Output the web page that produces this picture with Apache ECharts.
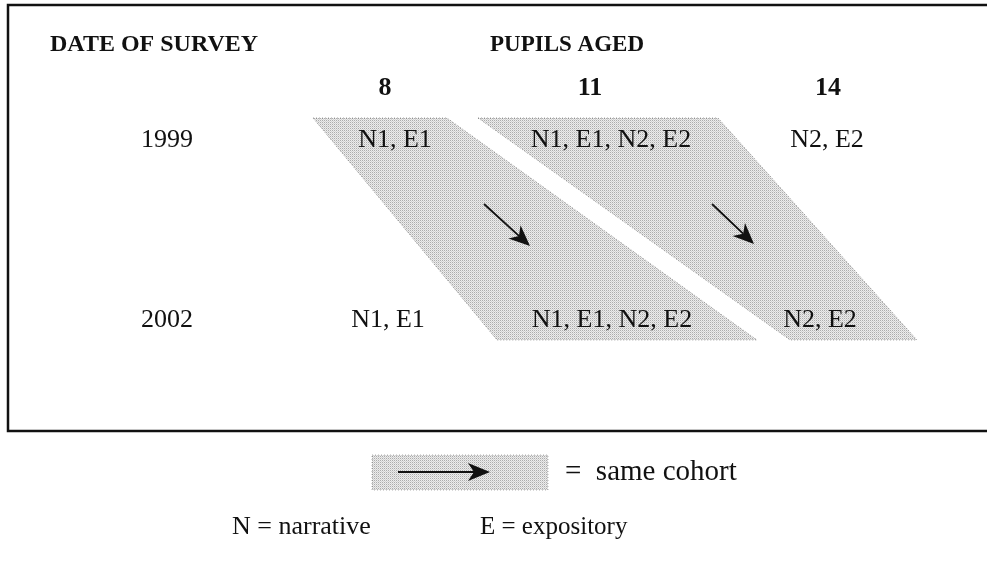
<!DOCTYPE html>
<html>
<head>
<meta charset="utf-8">
<script src="https://cdn.jsdelivr.net/npm/echarts@6/dist/echarts.min.js"></script>
<style>
  html, body { margin: 0; padding: 0; background: #fff; }
  #main { width: 987px; height: 562px; }
</style>
</head>
<body>
<div id="main"></div>
<script>
// survey design: which tasks were given to which age group in which year
var surveyYears = ['1999', '2002'];
var pupilAges = ['8', '11', '14'];
var tasks1999 = ['N1, E1', 'N1, E1, N2, E2', 'N2, E2'];
var tasks2002 = ['N1, E1', 'N1, E1, N2, E2', 'N2, E2'];
// cohorts followed: [age index in 1999, age index in 2002]
var cohorts = [[0, 1], [1, 2]];
var keyTexts = ['=  same cohort', 'N = narrative', 'E = expository'];

// layout (pixel space of the 987x562 page)
var headX = [385, 590, 828];
var cellX1999 = [395, 611, 827];
var cellX2002 = [388, 612, 820];
var rowY = [140, 320];
var yearX = 167;
var bandTop = 118, bandBottom = 340;
var bandEdges = [[313, 447, 757, 497], [478, 718, 917, 790]]; // tl, tr, br, bl x
var arrowPos = [[484, 204, 530, 246], [712, 204, 754, 244]];

var serif = '"Liberation Serif", "DejaVu Serif", serif';

var pat = document.createElement('canvas');
pat.width = 2; pat.height = 2;
var pctx = pat.getContext('2d');
pctx.fillStyle = '#ececec'; pctx.fillRect(0, 0, 2, 2);
pctx.fillStyle = '#acacac'; pctx.fillRect(0, 0, 1, 1);
pctx.fillStyle = '#d2d2d2'; pctx.fillRect(1, 1, 1, 1);
var dotFill = { image: pat, repeat: 'repeat' };

var chart = echarts.init(document.getElementById('main'));

function txt(api, s, x, y, size, bold, align) {
    var p = api.coord([x, y]);
    return {
        type: 'text',
        style: {
            text: s, x: p[0], y: p[1],
            font: (bold ? 'bold ' : '') + size + 'px ' + serif,
            fill: '#111', align: align || 'center', verticalAlign: 'middle'
        }
    };
}

function arrow(api, x1, y1, x2, y2, head, width) {
    var a = api.coord([x1, y1]), b = api.coord([x2, y2]);
    var ang = Math.atan2(b[1] - a[1], b[0] - a[0]);
    var hl = head || 20, hw = width || 8;
    var c = Math.cos(ang), s = Math.sin(ang);
    var bx = b[0] - hl * c, by = b[1] - hl * s;
    var nx = -s, ny = c;
    return {
        type: 'group',
        children: [
            { type: 'line', shape: { x1: a[0], y1: a[1], x2: bx + 6 * c, y2: by + 6 * s },
              style: { stroke: '#111', lineWidth: 1.8 } },
            { type: 'polygon', shape: { points: [b, [bx + nx * hw, by + ny * hw], [bx + 6 * c, by + 6 * s], [bx - nx * hw, by - ny * hw]] },
              style: { fill: '#111' } }
        ]
    };
}

function renderAll(params, api) {
    var kids = [];
    // frame
    var f = [api.coord([8, 5]), api.coord([987, 5]), api.coord([8, 431]), api.coord([987, 431])];
    kids.push({ type: 'polyline', shape: { points: [f[1], f[0], f[2], f[3]] }, style: { stroke: '#111', lineWidth: 2.5, fill: null } });
    // cohort bands
    cohorts.forEach(function (c, i) {
        var e = bandEdges[i];
        kids.push({
            type: 'polygon',
            shape: { points: [api.coord([e[0], bandTop]), api.coord([e[1], bandTop]), api.coord([e[2], bandBottom]), api.coord([e[3], bandBottom])] },
            style: { fill: dotFill, stroke: 'rgba(0,0,0,0.35)', lineWidth: 1, lineDash: [1, 2] }
        });
        var ap = arrowPos[i];
        kids.push(arrow(api, ap[0], ap[1], ap[2], ap[3], 21, 9));
    });
    // headers
    kids.push(txt(api, 'DATE OF SURVEY', 50, 45, 24, true, 'left'));
    kids.push(txt(api, 'PUPILS AGED', 567, 45, 23, true));
    pupilAges.forEach(function (a, i) { kids.push(txt(api, a, headX[i], 88, 26, true)); });
    // rows
    surveyYears.forEach(function (y, r) {
        kids.push(txt(api, y, yearX, rowY[r], 26, false));
        var cells = r === 0 ? tasks1999 : tasks2002;
        var xs = r === 0 ? cellX1999 : cellX2002;
        cells.forEach(function (t, i) { kids.push(txt(api, t, xs[i], rowY[r], 26, false)); });
    });
    // key
    var k = api.coord([372, 455]);
    kids.push({ type: 'rect', shape: { x: k[0], y: k[1], width: 176, height: 35 },
                style: { fill: dotFill, stroke: 'rgba(0,0,0,0.3)', lineWidth: 1, lineDash: [1, 2] } });
    kids.push(arrow(api, 398, 472, 490, 472, 22, 9));
    kids.push(txt(api, keyTexts[0], 565, 472, 29, false, 'left'));
    kids.push(txt(api, keyTexts[1], 232, 527, 26, false, 'left'));
    kids.push(txt(api, keyTexts[2], 480, 527, 25, false, 'left'));
    return { type: 'group', children: kids };
}

var option = {
    animation: false,
    grid: { left: 0, right: 0, top: 0, bottom: 0 },
    xAxis: { type: 'value', min: 0, max: 987, show: false },
    yAxis: { type: 'value', min: 0, max: 562, inverse: true, show: false },
    series: [{
        type: 'custom',
        renderItem: renderAll,
        data: [0],
        silent: true
    }]
};
option && chart.setOption(option);
</script>
</body>
</html>
